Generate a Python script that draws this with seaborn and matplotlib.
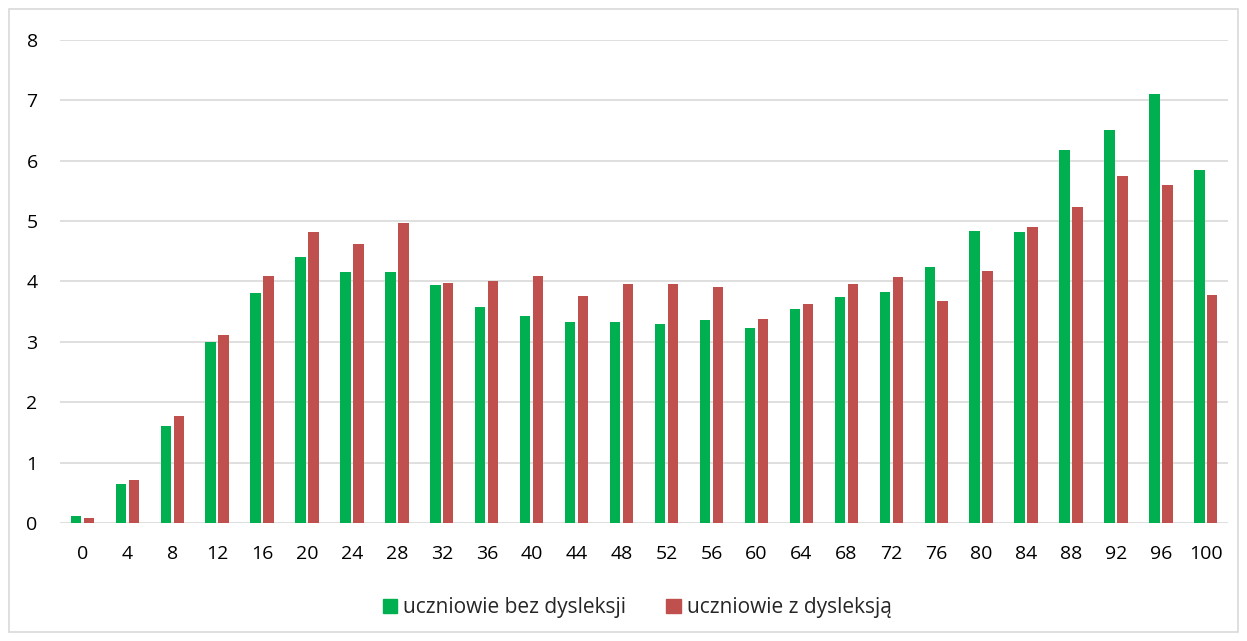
import pandas as pd
import matplotlib.pyplot as plt
import matplotlib.patches as mpatches
import seaborn as sns

# Data
progi = ['0', '4', '8', '12', '16', '20', '24', '28', '32', '36', '40', '44', '48',
         '52', '56', '60', '64', '68', '72', '76', '80', '84', '88', '92', '96', '100']
bez_dysleksji = [0.11, 0.64, 1.60, 2.99, 3.80, 4.40, 4.15, 4.15, 3.94, 3.57, 3.43, 3.32, 3.32,
                 3.30, 3.36, 3.23, 3.55, 3.74, 3.82, 4.24, 4.83, 4.82, 6.18, 6.50, 7.10, 5.84]
z_dysleksja = [0.09, 0.72, 1.78, 3.11, 4.09, 4.82, 4.62, 4.96, 3.98, 4.01, 4.09, 3.76, 3.95,
               3.95, 3.90, 3.37, 3.62, 3.95, 4.07, 3.68, 4.18, 4.90, 5.23, 5.74, 5.60, 3.78]
serie = ['uczniowie bez dysleksji', 'uczniowie z dysleksją']
kolory = ['#00B050', '#C0504D']

df = pd.DataFrame({
    'prog': progi * 2,
    'wartosc': bez_dysleksji + z_dysleksja,
    'grupa': [serie[0]] * len(progi) + [serie[1]] * len(progi),
})

sns.set_style('white')
plt.rcParams['font.family'] = ['Open Sans', 'DejaVu Sans']

fig = plt.figure(figsize=(12.47, 6.41), dpi=100)
ax = fig.add_axes([0.048, 0.184, 0.937, 0.754])

sns.barplot(data=df, x='prog', y='wartosc', hue='grupa', order=progi,
            palette=kolory, saturation=1, width=0.576, gap=0.2, linewidth=0,
            ax=ax, legend=False)

ax.set_ylim(0, 8)
ax.set_xlim(-0.5, len(progi) - 0.5)
ax.set_yticks(range(0, 9))
ax.yaxis.grid(True, color='#D9D9D9', linewidth=1.2)
ax.set_axisbelow(True)
for s in ax.spines.values():
    s.set_visible(False)
ax.tick_params(axis='both', length=0, labelsize=14, colors='#000000')
ax.tick_params(axis='y', pad=16)
ax.tick_params(axis='x', pad=16)
ax.set_xlabel('')
ax.set_ylabel('')

handles = [mpatches.Patch(color=c, label=l) for c, l in zip(kolory, serie)]
fig.legend(handles=handles, loc='center', bbox_to_anchor=(0.511, 0.052), ncol=2,
           frameon=False, fontsize=15, handlelength=0.7, handleheight=0.7,
           handletextpad=0.3, columnspacing=1.9)

# light outer frame like the original chart area
fig.patches.append(mpatches.Rectangle((0.007, 0.014), 0.986, 0.972, transform=fig.transFigure,
                                      fill=False, edgecolor='#D9D9D9', linewidth=1.2))

fig.savefig('out.png', dpi=100)
